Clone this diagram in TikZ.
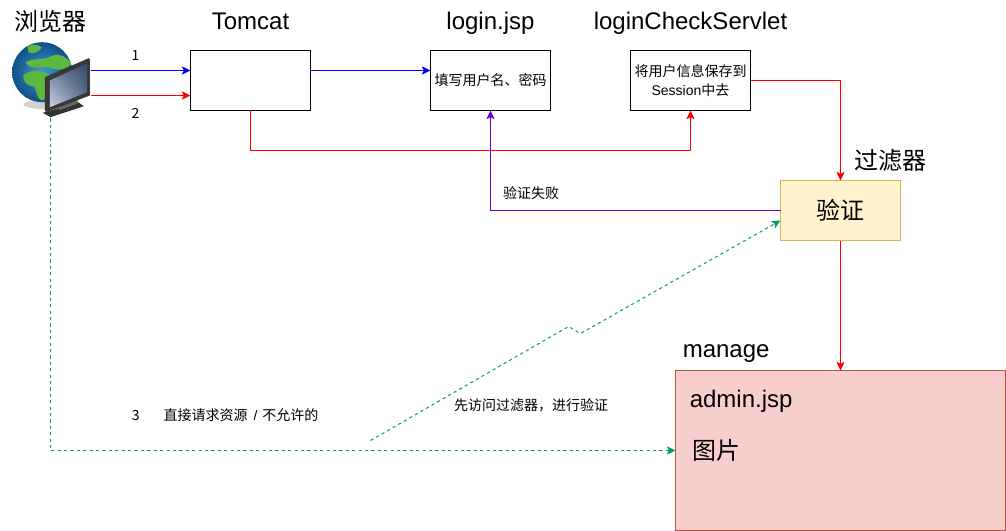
\documentclass[tikz,border=0pt]{standalone}
\usepackage{fontspec}
\setmainfont{Liberation Sans}
\newfontfamily\cjk{Noto Sans CJK SC}
\usetikzlibrary{arrows.meta,calc,shadings}
\definecolor{bluel}{HTML}{0000FF}
\definecolor{redl}{HTML}{FF0000}
\definecolor{purplel}{HTML}{6A00D5}
\definecolor{greenl}{HTML}{00A05A}
\definecolor{fffill}{HTML}{FFF2CC}
\definecolor{ffedge}{HTML}{D6B656}
\definecolor{manfill}{HTML}{F8CECC}
\definecolor{manedge}{HTML}{B85450}
\definecolor{oceanin}{HTML}{3E9AD6}
\definecolor{oceanout}{HTML}{0F4F86}
\definecolor{landa}{HTML}{5DB83E}
\definecolor{screena}{HTML}{CBD6E4}
\definecolor{screenb}{HTML}{34496A}
\tikzset{
  box/.style={draw=black,line width=.75pt,fill=white,minimum width=90pt,minimum height=45pt,inner sep=0pt,outer sep=0pt,align=center,font=\fontsize{10.5}{14.5}\selectfont\cjk},
  title/.style={inner sep=0pt,font=\fontsize{18}{20}\selectfont},
  ctitle/.style={inner sep=0pt,font=\fontsize{18}{20}\selectfont\cjk},
  small/.style={inner sep=0pt,font=\fontsize{10.5}{12}\selectfont\cjk},
  conn/.style={line width=.75pt,-{Stealth[length=6.5pt,width=6.2pt,inset=1.5pt]}},
  greenconn/.style={conn,color=greenl,dash pattern=on 2.4pt off 2.4pt},
}
\begin{document}
\begin{tikzpicture}[x=.75pt,y=-.75pt]
\useasboundingbox (-.5,-.5) rectangle (1005.5,530.5);
% browser icon
\fill[black!18] (50,104) ellipse (27 and 5);
\shade[inner color=oceanin,outer color=oceanout] (41.7,71.7) circle (30);
\begin{scope}
\clip (41.7,71.7) circle (30);
\fill[landa] (27,46) .. controls (32,43) and (38,44) .. (41,47) .. controls (39,52) and (32,54) .. (28,52) -- cycle;
\fill[landa] (25,62) .. controls (32,57) and (44,60) .. (50,56) .. controls (58,52) and (66,56) .. (71,63) .. controls (66,70) and (56,70) .. (48,67) .. controls (40,66) and (30,70) .. (25,62) -- cycle;
\fill[landa] (23,75) .. controls (28,70) and (38,68) .. (48,74) .. controls (54,78) and (52,84) .. (48,90) .. controls (46,96) and (44,100) .. (41,100) .. controls (36,98) and (36,90) .. (34,86) .. controls (28,86) and (22,82) .. (23,75) -- cycle;
\end{scope}
\node[inner sep=0pt,minimum width=60pt,minimum height=60pt] (browser) at (50,78) {};
\fill[black!80] (42.3,112.3) -- (50,116.7) -- (83.3,105.7) -- (77.7,101.7) -- cycle;
\fill[black!60] (58,110) -- (58,100) -- (77,93) -- (77,103) -- cycle;
\fill[black!78] (44.3,76.7) -- (88.3,57.7) -- (89.3,59) -- (89.3,95) -- (46,111.5) -- (44.3,110) -- cycle;
\shade[lower left=screena,upper right=screenb,lower right=screenb!70!screena,upper left=screenb!70!screena] (49.3,80) -- (86.7,62.7) -- (86.7,91.7) -- (49.3,106.7) -- cycle;
% titles
\node[ctitle] (tbrowser) at (50,21) {浏览器};
\node[title,anchor=base] (ttomcat) at (250,29) {Tomcat};
\node[title,anchor=base] (tlogin) at (490,29) {login.jsp};
\node[title,anchor=base] (tcheck) at (690,29) {loginCheckServlet};
\node[ctitle] (tfilter) at (890,160) {过滤器};
\node[title,anchor=base west] (tmanage) at (682,357.3) {manage};
% boxes
\node[box] (tomcat) at (250,80) {};
\node[box] (login) at (490,80) {填写用户名、密码};
\node[box] (check) at (690,80) {将用户信息保存到\\{\fontspec{Liberation Sans}Session}中去};
\node[box,draw=ffedge,fill=fffill] (verify) at (840,210) {};
\node[box,draw=manedge,fill=manfill,minimum width=247.5pt,minimum height=120pt] (manage) at (840,450) {};
\node[ctitle] (verifytext) at (840,210) {验证};
\node[title,anchor=base west] (adminjsp) at (689,407.3) {admin.jsp};
\node[ctitle,anchor=west] (pic) at (691.5,450) {图片};
% labels
\node[small] (l1) at (135,55) {1};
\node[small] (l2) at (135,113) {2};
\node[small,anchor=west] (l3) at (131,415) {3\hspace{18pt}直接请求资源\hspace{4.5pt}{\fontspec{Liberation Sans}/}\hspace{3.7pt}不允许的};
\node[small] (lfail) at (530.5,193) {验证失败};
\node[small] (lfirst) at (530.5,405) {先访问过滤器，进行验证};
% anchors
\coordinate (b1) at (90,70);
\coordinate (b2) at (90,95);
\coordinate (b3) at (50,118);
\coordinate (gstart) at (370,440);
% connectors
\draw[conn,bluel] (b1) -- (tomcat.west |- b1);
\draw[conn,redl] (b2) -- (tomcat.west |- b2);
\draw[conn,bluel] (tomcat.east |- b1) -- (login.west |- b1);
\draw[conn,redl] (tomcat.south) -- (250,150) -- (690,150) -- (check.south);
\draw[conn,redl] (check.east) -- (840,80) -- (verify.north);
\draw[conn,purplel] (verify.west) -- (490,210) -- (login.south);
\draw[conn,redl] (verify.south) -- (manage.north);
\draw[greenconn] (b3) -- (50,450) -- (manage.west);
\draw[greenconn] (gstart) -- (568,326) -- (580,333) -- (780,220);
\end{tikzpicture}
\end{document}
